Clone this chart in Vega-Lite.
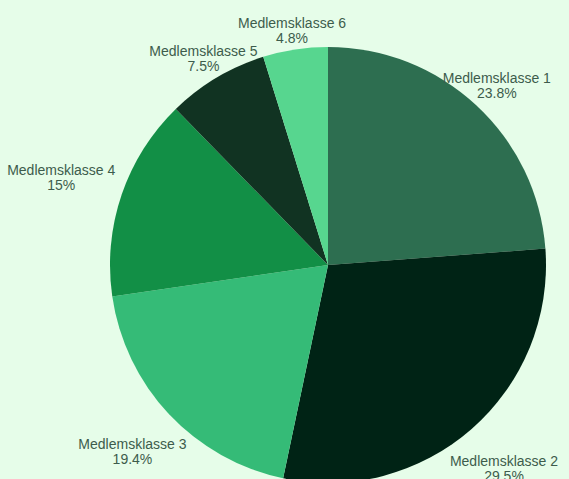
{
  "$schema": "https://vega.github.io/schema/vega-lite/v6.json",
  "width": 400,
  "height": 400,
  "autosize": "none",
  "padding": {"left": 128, "top": 65, "right": 41, "bottom": 14},
  "background": "#e6fde9",
  "config": {"view": {"stroke": null}},
  "data": {
    "values": [
      {"klasse": "Medlemsklasse 1", "value": 23.8, "label": "Medlemsklasse 1\n23.8%"},
      {"klasse": "Medlemsklasse 2", "value": 29.5, "label": "Medlemsklasse 2\n29.5%"},
      {"klasse": "Medlemsklasse 3", "value": 19.4, "label": "Medlemsklasse 3\n19.4%"},
      {"klasse": "Medlemsklasse 4", "value": 15, "label": "Medlemsklasse 4\n15%"},
      {"klasse": "Medlemsklasse 5", "value": 7.5, "label": "Medlemsklasse 5\n7.5%"},
      {"klasse": "Medlemsklasse 6", "value": 4.8, "label": "Medlemsklasse 6\n4.8%"}
    ]
  },
  "encoding": {
    "theta": {"field": "value", "type": "quantitative", "stack": true},
    "order": {"field": "klasse", "type": "ordinal"}
  },
  "layer": [
    {
      "mark": {"type": "arc", "outerRadius": 218},
      "encoding": {
        "color": {
          "field": "klasse",
          "type": "nominal",
          "legend": null,
          "scale": {
            "domain": ["Medlemsklasse 1", "Medlemsklasse 2", "Medlemsklasse 3", "Medlemsklasse 4", "Medlemsklasse 5", "Medlemsklasse 6"],
            "range": ["#2d6e50", "#002315", "#35bb77", "#128f46", "#113322", "#57d68f"]
          }
        }
      }
    },
    {
      "mark": {
        "type": "text",
        "font": "Liberation Sans",
        "fontSize": 14,
        "lineHeight": 15,
        "lineBreak": "\n",
        "color": "#3d5c4c",
        "align": "center",
        "baseline": "middle",
        "dy": -4,
        "radius": {"expr": "236 - 13 * cos(PI * (datum.value_start + datum.value_end) / 100) + min(60 / abs(sin(PI * (datum.value_start + datum.value_end) / 100)), 16 / abs(cos(PI * (datum.value_start + datum.value_end) / 100)))"}
      },
      "encoding": {
        "text": {"field": "label", "type": "nominal"}
      }
    }
  ]
}
